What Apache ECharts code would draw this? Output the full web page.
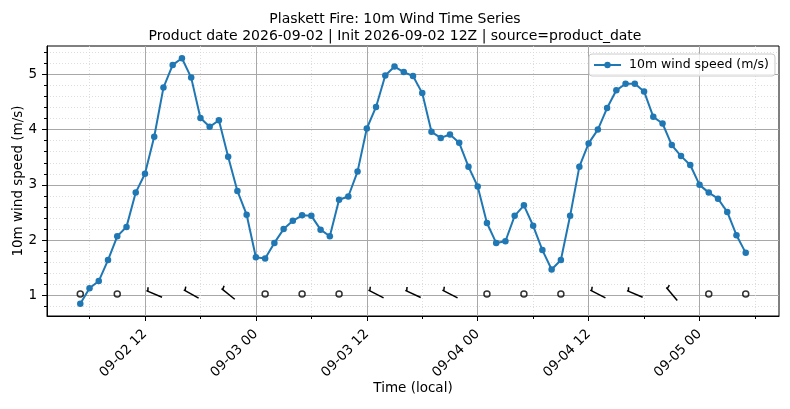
<!DOCTYPE html>
<html>
<head>
<meta charset="utf-8">
<script src="https://cdn.jsdelivr.net/npm/echarts@6/dist/echarts.min.js"></script>
<style>
html, body { margin: 0; padding: 0; background: #fff; }
#wind { width: 790px; height: 409px; }
</style>
</head>
<body>
<div id="wind"></div>
<script>
// time is kept as hours since 2026-09-02 00:00 local
var baseDate = [2026, 9, 2];
var firstHour = 5;
// hourly 10m wind speed (m/s) from 09-02 05:00
var windSpeed = [
	0.85, 1.13, 1.26, 1.64, 2.07, 2.24, 2.86, 3.20, 3.87, 4.76, 5.17, 5.29, 4.94, 4.21, 4.05, 4.17, 3.51, 2.89, 2.46,
	1.69, 1.67, 1.95, 2.20, 2.35, 2.45, 2.44, 2.19, 2.07, 2.73, 2.79, 3.24, 4.02, 4.41, 4.98, 5.14, 5.04, 4.97, 4.66, 3.96, 3.85, 3.91, 3.76, 3.33,
	2.97, 2.31, 1.95, 1.98, 2.44, 2.63, 2.26, 1.82, 1.47, 1.64, 2.44, 3.33, 3.75, 4.00, 4.39, 4.71, 4.83, 4.83, 4.69, 4.23, 4.11, 3.72, 3.52, 3.36,
	3.00, 2.86, 2.75, 2.51, 2.09, 1.77
];
// barbs every 4 hours from the first sample; direction in degrees (from), null = calm
var barbStep = 4;
var barbDir = [null, null, 293, 299, 309, null, null, null, 297, 295, 297, null, null, null, 297, 293, 320, null, null];
var barbLevel = 1;

var xRange = [1.4, 80.6];
var xMajorTicks = [12, 24, 36, 48, 60, 72];
var xMinorTicks = [6, 18, 30, 42, 54, 66, 78];
var yRange = [0.628, 5.512];
var yMajorTicks = [1, 2, 3, 4, 5];
var yMinorTicks = [0.8, 1.2, 1.4, 1.6, 1.8, 2.2, 2.4, 2.6, 2.8, 3.2, 3.4, 3.6, 3.8, 4.2, 4.4, 4.6, 4.8, 5.2, 5.4];

function pad(n) { return n < 10 ? '0' + n : '' + n; }
function hourLabel(h) {
	var d = new Date(baseDate[0], baseDate[1] - 1, baseDate[2], 0, 0);
	d.setTime(d.getTime() + Math.round(h) * 3600000);
	return pad(d.getMonth() + 1) + '-' + pad(d.getDate()) + ' ' + pad(d.getHours());
}

var speedData = [];
for (var i = 0; i < windSpeed.length; i++) {
	speedData.push([firstHour + i, windSpeed[i]]);
}
var calmData = [], barbData = [];
for (var k = 0; k < barbDir.length; k++) {
	var t = speedData[k * barbStep][0];
	if (barbDir[k] === null) calmData.push([t, barbLevel]);
	else barbData.push([t, barbLevel, barbDir[k]]);
}

var font = 'DejaVu Sans';

var option = {
	animation: false,
	backgroundColor: '#fff',
	textStyle: { fontFamily: font },
	title: {
		text: 'Plaskett Fire: 10m Wind Time Series\nProduct date 2026-09-02 | Init 2026-09-02 12Z | source=product_date',
		left: 'center',
		top: 6,
		textStyle: { fontFamily: font, fontSize: 14, fontWeight: 'normal', color: '#000', lineHeight: 17 }
	},
	legend: {
		data: ['10m wind speed (m/s)'],
		left: 589,
		top: 54,
		padding: [4, 6, 4, 4],
		itemWidth: 27,
		itemHeight: 8,
		borderColor: '#cccccc',
		borderWidth: 1,
		borderRadius: 3,
		backgroundColor: 'rgba(255,255,255,0.8)',
		textStyle: { fontFamily: font, fontSize: 12.5, color: '#000', padding: [0, 0, 0, 3], lineHeight: 14 }
	},
	grid: {
		left: 47, right: 11, top: 46, bottom: 93,
		outerBoundsMode: 'none',
		containLabel: false,
		show: true, borderColor: '#000', borderWidth: 1, backgroundColor: 'transparent'
	},
	xAxis: [{
		type: 'value',
		min: xRange[0],
		max: xRange[1],
		name: 'Time (local)',
		nameLocation: 'middle',
		nameGap: 65,
		nameMoveOverlap: false,
		nameTextStyle: { fontFamily: font, fontSize: 13.5, color: '#000' },
		axisLine: { lineStyle: { color: '#000', width: 1 } },
		axisTick: { show: true, length: 5, lineStyle: { color: '#000' }, customValues: xMajorTicks },
		axisLabel: {
			rotate: 45, margin: 16, fontFamily: font, fontSize: 13.5, color: '#000',
			customValues: xMajorTicks,
			formatter: hourLabel
		},
		splitLine: { show: true, lineStyle: { color: '#a8a8a8', width: 1 } }
	}, {
		type: 'value',
		min: xRange[0],
		max: xRange[1],
		position: 'bottom',
		axisLine: { show: false },
		axisLabel: { show: false, customValues: xMinorTicks },
		axisTick: { show: true, length: 3, lineStyle: { color: '#000' }, customValues: xMinorTicks },
		splitLine: { show: true, lineStyle: { color: '#d6d6d6', width: 0.8, type: [1, 2] } }
	}],
	yAxis: [{
		type: 'value',
		min: yRange[0],
		max: yRange[1],
		name: '10m wind speed (m/s)',
		nameLocation: 'middle',
		nameGap: 22,
		nameMoveOverlap: false,
		nameTextStyle: { fontFamily: font, fontSize: 13.5, color: '#000' },
		axisLine: { show: true, lineStyle: { color: '#000', width: 1 } },
		axisTick: { show: true, length: 5, lineStyle: { color: '#000' }, customValues: yMajorTicks },
		axisLabel: { margin: 10, fontFamily: font, fontSize: 13.5, color: '#000', customValues: yMajorTicks },
		splitLine: { show: true, lineStyle: { color: '#a8a8a8', width: 1 } }
	}, {
		type: 'value',
		min: yRange[0],
		max: yRange[1],
		position: 'left',
		axisLine: { show: false },
		axisLabel: { show: false, customValues: yMinorTicks },
		axisTick: { show: true, length: 3, lineStyle: { color: '#000' }, customValues: yMinorTicks },
		splitLine: { show: true, lineStyle: { color: '#d6d6d6', width: 0.8, type: [1, 2] } }
	}],
	series: [{
		name: '10m wind speed (m/s)',
		type: 'line',
		data: speedData,
		symbol: 'circle',
		symbolSize: 6.5,
		itemStyle: { color: '#1f77b4' },
		lineStyle: { color: '#1f77b4', width: 2 },
		z: 3
	}, {
		name: 'calm',
		type: 'scatter',
		data: calmData,
		symbol: 'circle',
		symbolSize: 6,
		symbolOffset: [0, -1.5],
		itemStyle: { color: 'rgba(0,0,0,0)', borderColor: '#000', borderWidth: 1.5 },
		z: 4
	}, {
		name: 'barbs',
		type: 'custom',
		data: barbData,
		z: 4,
		renderItem: function (params, api) {
			var p = api.coord([api.value(0), api.value(1)]);
			var a = api.value(2) * Math.PI / 180;
			var dx = Math.sin(a), dy = -Math.cos(a);
			var L = 17, cx = p[0], cy = p[1] - 1.5;
			var fx = cx + dx * L / 2, fy = cy + dy * L / 2;
			var tx = cx - dx * L / 2, ty = cy - dy * L / 2;
			var sx = fx - dx * 1.5, sy = fy - dy * 1.5;
			var ex = sx + 3.8 * (-dy + 0.35 * dx), ey = sy + 3.8 * (dx + 0.35 * dy);
			var style = { stroke: '#000', lineWidth: 1.5, fill: null };
			return {
				type: 'group',
				children: [
					{ type: 'line', shape: { x1: tx, y1: ty, x2: fx, y2: fy }, style: style },
					{ type: 'line', shape: { x1: sx, y1: sy, x2: ex, y2: ey }, style: style }
				]
			};
		}
	}]
};

var myChart = echarts.init(document.getElementById('wind'), null, { renderer: 'canvas' });
myChart.setOption(option, true);
</script>
</body>
</html>
